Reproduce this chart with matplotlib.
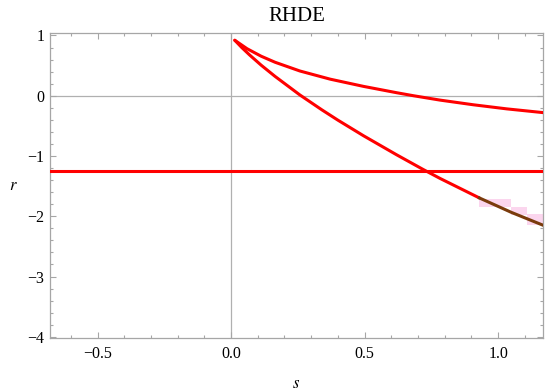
import numpy as np
import matplotlib
matplotlib.use("Agg")
import matplotlib.pyplot as plt
from matplotlib.ticker import MultipleLocator

# values
upper_s = [0.014, 0.06, 0.113, 0.165, 0.258, 0.371, 0.496, 0.62, 0.683,
           0.783, 0.907, 1.032, 1.168]
upper_r = [0.92, 0.78, 0.655, 0.555, 0.41, 0.275, 0.155, 0.05, 0.0,
           -0.073, -0.15, -0.218, -0.28]

lower_s = [0.014, 0.04, 0.07, 0.113, 0.165, 0.258, 0.34, 0.40, 0.496,
           0.62, 0.72, 0.783, 0.93]
lower_r = [0.92, 0.80, 0.674, 0.506, 0.32, 0.012, -0.234, -0.405, -0.664,
           -0.98, -1.225, -1.373, -1.696]

tail_s = [0.93, 1.05, 1.168]
tail_r = [-1.696, -1.936, -2.148]

flat_s = [-0.678, 1.168]
flat_r = [-1.25, -1.25]

pink_s = [0.93, 1.05, 1.11, 1.168]
pink_lo = [-1.84, -1.98, -2.14, -2.14]
pink_hi = [-1.71, -1.85, -1.97, -1.97]

plt.rcParams['font.family'] = ['Liberation Serif', 'DejaVu Serif']
plt.rcParams['mathtext.fontset'] = 'stix'

fig = plt.figure(figsize=(5.5, 3.91), dpi=100)
ax = fig.add_axes([0.0909, 0.1355, 0.8963, 0.780])

gray = '#a6a6a6'
ax.axhline(0, color='#b0b0b0', lw=0.9, zorder=1)
ax.axvline(0, color='#b0b0b0', lw=0.9, zorder=1)

ax.fill_between(pink_s, pink_lo, pink_hi, step='post', color='#fbd6ee', lw=0, zorder=2)

red = '#ff0000'
ax.plot(flat_s, flat_r, color=red, lw=2.2, zorder=3)
ax.plot(upper_s, upper_r, color=red, lw=2.2, zorder=3,
        solid_capstyle='round', solid_joinstyle='round')
ax.plot(lower_s, lower_r, color=red, lw=2.2, zorder=3,
        solid_capstyle='round', solid_joinstyle='round')
ax.plot(tail_s, tail_r, color='#7a3b0c', lw=2.2, zorder=4, solid_joinstyle='round')

ax.set_xlim(-0.678, 1.168)
ax.set_ylim(-4.02, 1.04)

ax.xaxis.set_minor_locator(MultipleLocator(0.1))
ax.yaxis.set_minor_locator(MultipleLocator(0.2))
ax.set_xticks([-0.5, 0.0, 0.5, 1.0])
ax.set_xticklabels(['\u22120.5', '0.0', '0.5', '1.0'])
ax.set_yticks([1, 0, -1, -2, -3, -4])
ax.set_yticklabels(['1', '0', '\u22121', '\u22122', '\u22123', '\u22124'])

ax.tick_params(which='both', direction='in', top=True, right=True, color=gray,
               labelsize=11.5, width=0.8)
ax.tick_params(which='major', length=4.5)
ax.tick_params(which='minor', length=2.5)
ax.tick_params(axis='x', pad=6)
ax.tick_params(axis='y', pad=4)
for sp in ax.spines.values():
    sp.set_color(gray)
    sp.set_linewidth(0.9)

ax.set_title('RHDE', fontsize=15, pad=9)
ax.set_xlabel('$s$', fontsize=12, labelpad=10)
ax.set_ylabel('$r$', fontsize=12, labelpad=10, rotation=0, va='center')

fig.savefig('out.png', dpi=100)
